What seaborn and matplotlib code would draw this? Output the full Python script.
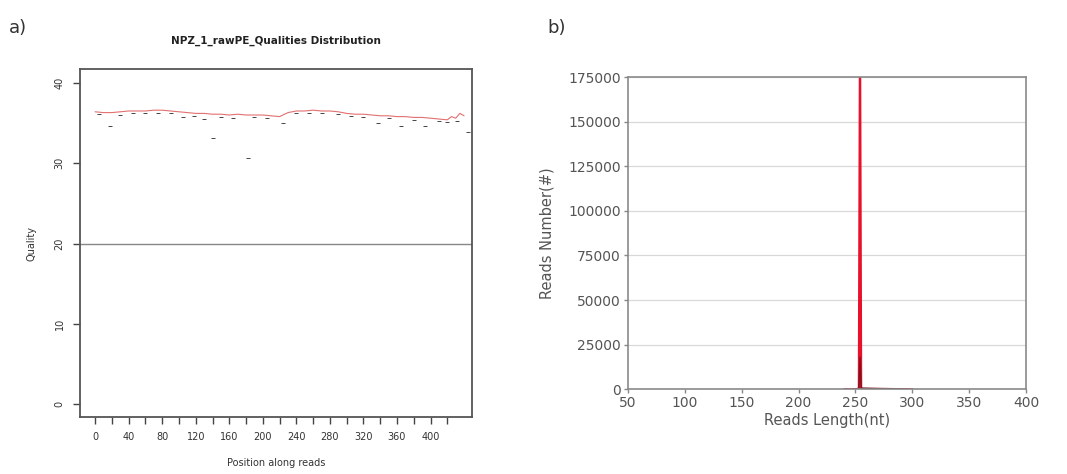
"""
Read quality and read length overview for NPZ_1
"""

# Libraries
import pandas as pd
import seaborn as sns
import matplotlib.pyplot as plt

# Seaborn
sns.set_theme(style="white")
plt.rcParams['font.family'] = ['DejaVu Sans']

# ---------------------------------
# Data
# ---------------------------------
# a) mean quality along reads (red line)
positions = [0, 10, 20, 30, 40, 50, 60, 70, 80, 90, 100, 110, 120, 130, 140,
             150, 160, 170, 180, 190, 200, 210, 220, 230, 240, 250, 260, 270,
             280, 290, 300, 310, 320, 330, 340, 350, 360, 370, 380, 390, 400,
             410, 420, 425, 430, 435, 440]
mean_quality = [36.4, 36.3, 36.3, 36.4, 36.5, 36.5, 36.5, 36.6, 36.6, 36.5,
                36.4, 36.3, 36.2, 36.2, 36.1, 36.1, 36.0, 36.1, 36.0, 36.0,
                36.0, 35.9, 35.8, 36.3, 36.5, 36.5, 36.6, 36.5, 36.5, 36.4,
                36.2, 36.1, 36.1, 36.0, 35.9, 35.9, 35.8, 35.8, 35.7, 35.7,
                35.6, 35.5, 35.4, 35.8, 35.6, 36.2, 35.9]

# a) per-position points (black)
point_pos = [5, 18, 30, 45, 60, 75, 90, 105, 118, 130, 141, 150, 165, 182,
             190, 205, 224, 240, 255, 270, 290, 305, 320, 337, 350, 365, 380,
             394, 410, 420, 432, 445]
point_quality = [36.1, 34.6, 36.0, 36.2, 36.3, 36.3, 36.2, 35.8, 35.9, 35.5,
                 33.2, 35.8, 35.6, 30.7, 35.7, 35.6, 35.0, 36.2, 36.3, 36.3,
                 36.1, 35.9, 35.7, 35.0, 35.6, 34.6, 35.4, 34.6, 35.2, 35.1,
                 35.3, 33.9]

# b) read length distribution
read_length = [240, 250, 251, 252, 253, 254, 255, 256, 260, 270, 280, 290, 300]
reads_number = [0, 0, 0, 0, 0, 200000, 0, 0, 0, 0, 0, 0, 0]
low_length = [248, 252, 253, 254, 255, 256, 270, 290, 295]
low_number = [0, 300, 900, 18000, 900, 600, 400, 200, 0]

quality_threshold = 20

# ---------------------------------
# Plot
# ---------------------------------
f = plt.figure(figsize=(10.67, 4.74), dpi=100)
ax1 = f.add_axes([0.075, 0.120, 0.367, 0.734])
ax2 = f.add_axes([0.5886, 0.179, 0.373, 0.658])

# Panel a
qual = pd.DataFrame({'position': positions, 'quality': mean_quality})
pts = pd.DataFrame({'position': point_pos, 'quality': point_quality})
sns.lineplot(data=qual, x='position', y='quality', color='#e27070',
             linewidth=0.8, ax=ax1)
sns.scatterplot(data=pts, x='position', y='quality', color='#444444',
                marker='_', s=10, linewidth=0.7, ax=ax1)
ax1.axhline(quality_threshold, color='#888888', linewidth=1.0)
ax1.set_xlim(-18, 449)
ax1.set_ylim(-1.6, 41.7)
ax1.set_xticks(range(0, 421, 40))
ax1.set_xticks(range(20, 421, 40), minor=True)
ax1.set_yticks([0, 10, 20, 30, 40])
ax1.tick_params(axis='both', which='both', direction='out', length=5,
                width=1, color='#444444', labelsize=7, labelcolor='#333333',
                bottom=True, left=True, pad=6)
for lab in ax1.get_yticklabels():
    lab.set_rotation(90)
    lab.set_va('center')
for s in ax1.spines.values():
    s.set_color('#555555')
    s.set_linewidth(1.3)
ax1.set_title('NPZ_1_rawPE_Qualities Distribution', fontsize=7.5,
              fontweight='bold', pad=18, color='#222222')
ax1.set_xlabel('Position along reads', fontsize=7, labelpad=11,
               color='#333333')
ax1.set_ylabel('Quality', fontsize=7, labelpad=13, color='#333333')

# Panel b
lens = pd.DataFrame({'length': read_length, 'reads': reads_number})
low = pd.DataFrame({'length': low_length, 'reads': low_number})
sns.lineplot(data=lens, x='length', y='reads', color='#e8102a',
             linewidth=1.6, ax=ax2)
sns.lineplot(data=low, x='length', y='reads', color='#7a1520',
             linewidth=1.0, ax=ax2)
ax2.set_xlim(50, 400)
ax2.set_ylim(0, 175000)
ax2.set_xticks(range(50, 401, 50))
ax2.set_yticks(range(0, 175001, 25000))
ax2.yaxis.grid(True, color='#d8d8d8', linewidth=0.9)
ax2.set_axisbelow(True)
ax2.tick_params(axis='both', direction='out', length=3, width=1,
                color='#888888', labelsize=10, labelcolor='#555555',
                bottom=True, left=True, pad=2)
for s in ax2.spines.values():
    s.set_color('#8a8a8a')
    s.set_linewidth(1.2)
ax2.set_xlabel('Reads Length(nt)', fontsize=10.5, labelpad=2,
               color='#555555')
ax2.set_ylabel('Reads Number(#)', fontsize=10.5, labelpad=10,
               color='#555555')

# Panel letters
f.text(0.008, 0.93, 'a)', fontsize=13, color='#333333')
f.text(0.513, 0.93, 'b)', fontsize=13, color='#333333')

# Save
f.savefig('out.png', dpi=100)
